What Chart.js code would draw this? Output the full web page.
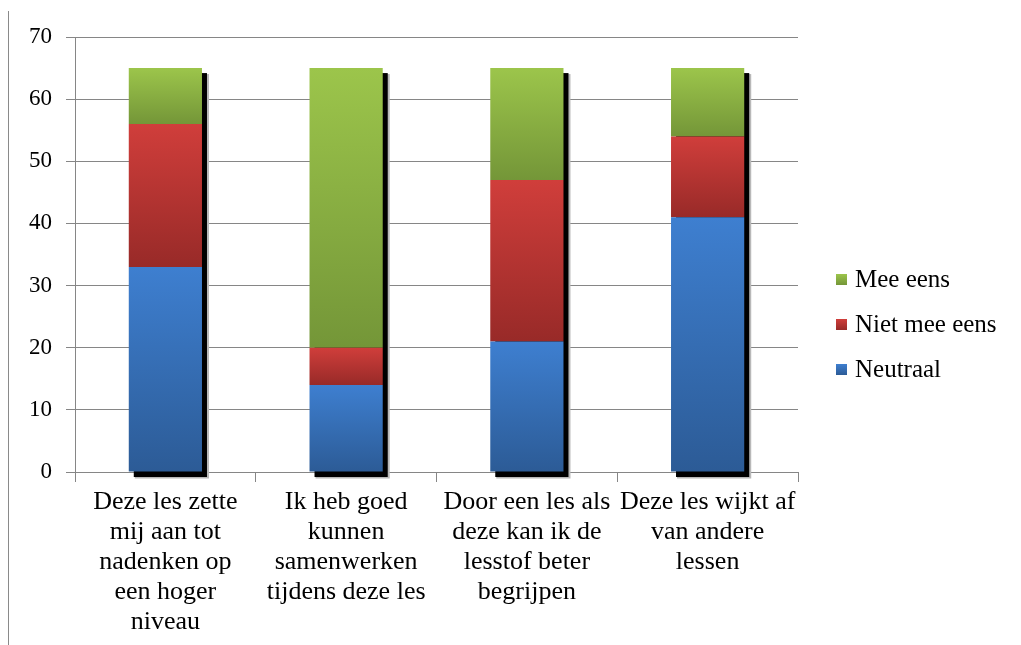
<!DOCTYPE html>
<html>
<head>
<meta charset="utf-8">
<script src="https://cdn.jsdelivr.net/npm/chart.js@4/dist/chart.umd.min.js"></script>
<style>
  html, body { margin: 0; padding: 0; background: #fff; }
  #wrap { width: 1021px; height: 645px; }
</style>
</head>
<body>
<div id="wrap"><canvas id="enquete" width="1021" height="645"></canvas></div>
<script>
// Stellingen (x-as), elke stelling opgesplitst in regels
const stellingen = [
  ['Deze les zette', 'mij aan tot', 'nadenken op', 'een hoger', 'niveau'],
  ['Ik heb goed', 'kunnen', 'samenwerken', 'tijdens deze les'],
  ['Door een les als', 'deze kan ik de', 'lesstof beter', 'begrijpen'],
  ['Deze les wijkt af', 'van andere', 'lessen']
];

// Aantallen per antwoord
const neutraal = [33, 14, 21, 41];
const nietMeeEens = [23, 6, 26, 13];
const meeEens = [9, 45, 18, 11];

const yTicks = [0, 10, 20, 30, 40, 50, 60, 70];

const serif = "'Liberation Serif', 'DejaVu Serif', 'Times New Roman', serif";

// kleur boven / onder voor het verloop in elk segment
const kleuren = {
  neutraal: ['#3e7fd0', '#2c5b96'],
  niet: ['#d03e3b', '#982a28'],
  mee: ['#9cc54b', '#749638']
};

function verloop(paar) {
  return function (ctx) {
    const chart = ctx.chart;
    if (!chart.chartArea || ctx.type !== 'data') return paar[0];
    const y = chart.scales.y;
    let start = 0;
    for (let i = 0; i < ctx.datasetIndex; i++) {
      start += chart.data.datasets[i].data[ctx.dataIndex];
    }
    const eind = start + chart.data.datasets[ctx.datasetIndex].data[ctx.dataIndex];
    const top = y.getPixelForValue(eind);
    const bodem = y.getPixelForValue(start);
    const g = chart.ctx.createLinearGradient(0, top, 0, bodem);
    g.addColorStop(0, paar[0]);
    g.addColorStop(1, paar[1]);
    return g;
  };
}

// zwarte schaduw rechts/onder de staven
const schaduw = {
  id: 'schaduw',
  beforeDatasetsDraw(chart) {
    const c = chart.ctx;
    const y = chart.scales.y;
    const meta = chart.getDatasetMeta(0);
    meta.data.forEach((bar, i) => {
      let totaal = 0;
      chart.data.datasets.forEach(ds => { totaal += ds.data[i]; });
      const top = y.getPixelForValue(totaal);
      const bodem = y.getPixelForValue(0);
      const links = bar.x - bar.width / 2;
      const rechts = bar.x + bar.width / 2;
      c.save();
      c.fillStyle = '#b8b8b8';
      c.fillRect(links + 6, top + 6, rechts - links + 1, bodem - top + 0.5);
      c.fillStyle = '#000';
      c.fillRect(links + 5, top + 5, rechts - links, bodem - top);
      c.restore();
    });
  }
};

// legenda rechts naast de grafiek, bovenste item = bovenste segment
const legenda = {
  id: 'legenda',
  afterDraw(chart) {
    const c = chart.ctx;
    const area = chart.chartArea;
    const x = area.right + 38;
    const midden = 324;
    const stap = 45;
    const sets = chart.data.datasets.slice().reverse();
    const paren = [kleuren.mee, kleuren.niet, kleuren.neutraal];
    c.save();
    c.font = '25px ' + serif;
    c.textBaseline = 'middle';
    sets.forEach((ds, i) => {
      const yc = midden + (i - 1) * stap;
      const g = c.createLinearGradient(0, yc - 5, 0, yc + 6);
      g.addColorStop(0, paren[i][0]);
      g.addColorStop(1, paren[i][1]);
      c.fillStyle = g;
      c.fillRect(x, yc - 5, 11, 11);
      c.fillStyle = '#000';
      c.fillText(ds.label, x + 19, yc + 1);
    });
    c.restore();
  }
};

// dunne lijn langs de linkerrand
const rand = {
  id: 'rand',
  afterDraw(chart) {
    const c = chart.ctx;
    c.save();
    c.strokeStyle = '#8a8a8a';
    c.lineWidth = 1;
    c.beginPath();
    c.moveTo(8.5, 11);
    c.lineTo(8.5, 645);
    c.stroke();
    c.restore();
  }
};

new Chart(document.getElementById('enquete'), {
  type: 'bar',
  data: {
    labels: stellingen,
    datasets: [
      { label: 'Neutraal', data: neutraal, backgroundColor: verloop(kleuren.neutraal) },
      { label: 'Niet mee eens', data: nietMeeEens, backgroundColor: verloop(kleuren.niet) },
      { label: 'Mee eens', data: meeEens, backgroundColor: verloop(kleuren.mee) }
    ]
  },
  options: {
    responsive: false,
    animation: false,
    categoryPercentage: 1,
    barPercentage: 0.405,
    layout: { padding: { top: 37, right: 223, bottom: 0, left: 0 } },
    plugins: {
      tooltip: { enabled: false },
      legend: { display: false }
    },
    scales: {
      x: {
        stacked: true,
        afterFit(scale) { scale.height = 173; },
        border: { color: '#868686', width: 1 },
        grid: {
          offset: true,
          drawOnChartArea: false,
          drawTicks: true,
          tickLength: 10,
          color: '#868686'
        },
        ticks: {
          color: '#000',
          maxRotation: 0,
          autoSkip: false,
          padding: 5,
          font: { family: serif, size: 26, lineHeight: '30px' }
        }
      },
      y: {
        stacked: true,
        min: 0,
        max: 70,
        afterFit(scale) { scale.width = 75; },
        afterBuildTicks(scale) { scale.ticks = yTicks.map(v => ({ value: v })); },
        border: { color: '#868686', width: 1 },
        grid: { color: '#868686', tickLength: 9 },
        ticks: {
          color: '#000',
          padding: 14,
          font: { family: serif, size: 23 }
        }
      }
    }
  },
  plugins: [schaduw, legenda, rand]
});
</script>
</body>
</html>
